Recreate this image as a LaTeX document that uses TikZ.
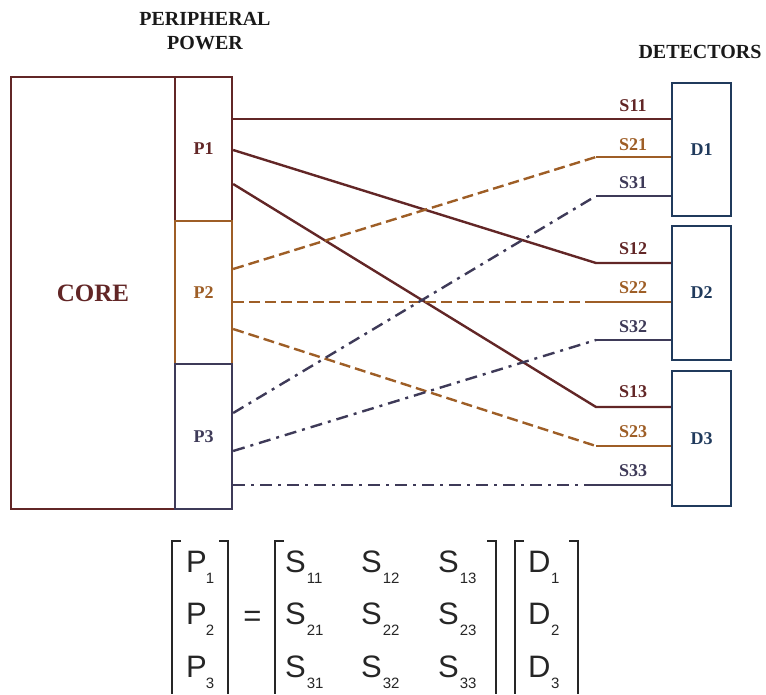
\documentclass[tikz,border=0pt]{standalone}
\usepackage{fontspec}
\setmainfont{Liberation Serif}
\newfontfamily\eqf{Liberation Sans}
\definecolor{mar}{RGB}{98,38,38}
\definecolor{org}{RGB}{158,94,38}
\definecolor{sla}{RGB}{62,58,88}
\definecolor{nav}{RGB}{32,58,92}
\definecolor{hdr}{RGB}{25,25,25}
\newcommand{\mysub}[1]{\raisebox{-11.5pt}{\fontsize{15}{15}\selectfont #1}}
\begin{document}
\begin{tikzpicture}[x=1pt,y=-1pt,
 box/.style={draw,line width=2.3pt,fill=white,inner sep=0pt,font=\bfseries\fontsize{18}{18}\selectfont},
 hdrtxt/.style={font=\bfseries\fontsize{20}{24.5}\selectfont,text=hdr,align=center,inner sep=0pt},
 lab/.style={font=\bfseries\fontsize{18}{18}\selectfont,inner sep=0pt},
 l1/.style={draw=mar,line width=2.4pt},
 l2/.style={draw=org,line width=2.4pt},
 l3/.style={draw=sla,line width=2.4pt},
 dsh/.style={dash pattern=on 11pt off 5pt},
 dshdot/.style={dash pattern=on 12pt off 6pt on 3pt off 6pt},
 br/.style={line width=2pt,draw=black!85},
 ent/.style={font=\eqf\fontsize{31}{31}\selectfont,anchor=base west,inner sep=0pt,text=black!85}]
\useasboundingbox (0,0) rectangle (766,694);

% headers
\node[hdrtxt] (hp) at (205,31) {PERIPHERAL\\POWER};
\node[hdrtxt] (hd) at (700,52) {DETECTORS};

% boxes
\node[box,draw=mar,text=mar,minimum width=164,minimum height=432,font=\bfseries\fontsize{25}{25}\selectfont] (core) at (93,293) {CORE};
\node[box,draw=mar,text=mar,minimum width=57,minimum height=144] (p1) at (203.5,149) {P1};
\node[box,draw=org,text=org,minimum width=57,minimum height=143] (p2) at (203.5,292.5) {P2};
\node[box,draw=sla,text=sla,minimum width=57,minimum height=145] (p3) at (203.5,436.5) {P3};
\node[box,draw=nav,text=nav,minimum width=59,minimum height=133] (d1) at (701.5,149.5) {D1};
\node[box,draw=nav,text=nav,minimum width=59,minimum height=134] (d2) at (701.5,293) {D2};
\node[box,draw=nav,text=nav,minimum width=59,minimum height=135] (d3) at (701.5,438.5) {D3};

% start points
\coordinate (a11) at ([yshift=30pt]p1.east);
\coordinate (a12) at ([yshift=-1pt]p1.east);
\coordinate (a13) at ([yshift=-35pt]p1.east);
\coordinate (a21) at ([yshift=23.5pt]p2.east);
\coordinate (a22) at ([yshift=-9.5pt]p2.east);
\coordinate (a23) at ([yshift=-36.5pt]p2.east);
\coordinate (a31) at ([yshift=23.5pt]p3.east);
\coordinate (a32) at ([yshift=-14.5pt]p3.east);
\coordinate (a33) at ([yshift=-48.5pt]p3.east);
% bend points
\coordinate (b12) at (596,263);
\coordinate (b13) at (596,407);
\coordinate (b21) at (596,157);
\coordinate (b22) at (596,302);
\coordinate (b23) at (596,446);
\coordinate (b31) at (596,196);
\coordinate (b32) at (596,340);
\coordinate (b33) at (596,485);

% connectors
\draw[l1] (a11) -- (d1.west |- a11);
\draw[l1] (a12) -- (b12) -- (d2.west |- b12);
\draw[l1] (a13) -- (b13) -- (d3.west |- b13);
\draw[l2,dsh] (a21) -- (b21);
\draw[l2] (b21) -- (d1.west |- b21);
\draw[l2,dsh] (a22) -- (b22);
\draw[l2] (b22) -- (d2.west |- b22);
\draw[l2,dsh] (a23) -- (b23);
\draw[l2] (b23) -- (d3.west |- b23);
\draw[l3,dshdot] (a31) -- (b31);
\draw[l3] (b31) -- (d1.west |- b31);
\draw[l3,dshdot] (a32) -- (b32);
\draw[l3] (b32) -- (d2.west |- b32);
\draw[l3,dshdot] (a33) -- (b33);
\draw[l3] (b33) -- (d3.west |- b33);

% labels
\node[lab,text=mar] (t11) at (633,105.5) {S11};
\node[lab,text=org] (t21) at (633,144.5) {S21};
\node[lab,text=sla] (t31) at (633,183) {S31};
\node[lab,text=mar] (t12) at (633,249) {S12};
\node[lab,text=org] (t22) at (633,288) {S22};
\node[lab,text=sla] (t32) at (633,327) {S32};
\node[lab,text=mar] (t13) at (633,392) {S13};
\node[lab,text=org] (t23) at (633,432) {S23};
\node[lab,text=sla] (t33) at (633,471) {S33};

% equation brackets
\draw[br] (181,541) -- (172,541) -- (172,694);
\draw[br] (219,541) -- (228,541) -- (228,694);
\draw[br] (284,541) -- (275,541) -- (275,694);
\draw[br] (487,541) -- (496,541) -- (496,694);
\draw[br] (524,541) -- (515,541) -- (515,694);
\draw[br] (569,541) -- (578,541) -- (578,694);

% equation entries
\node[ent] (mp1) at (186,572) {P\kern-1pt\mysub{1}};
\node[ent] (mp2) at (186,624) {P\kern-1pt\mysub{2}};
\node[ent] (mp3) at (186,677) {P\kern-1pt\mysub{3}};
\node[ent,anchor=center] (eq) at (252.5,619) {=};
\node[ent] (m11) at (285,572) {S\kern1pt\mysub{11}};
\node[ent] (m12) at (361,572) {S\kern1pt\mysub{12}};
\node[ent] (m13) at (438,572) {S\kern1pt\mysub{13}};
\node[ent] (m21) at (285,624) {S\kern1pt\mysub{21}};
\node[ent] (m22) at (361,624) {S\kern1pt\mysub{22}};
\node[ent] (m23) at (438,624) {S\kern1pt\mysub{23}};
\node[ent] (m31) at (285,677) {S\kern1pt\mysub{31}};
\node[ent] (m32) at (361,677) {S\kern1pt\mysub{32}};
\node[ent] (m33) at (438,677) {S\kern1pt\mysub{33}};
\node[ent] (md1) at (528,572) {D\kern0.5pt\mysub{1}};
\node[ent] (md2) at (528,624) {D\kern0.5pt\mysub{2}};
\node[ent] (md3) at (528,677) {D\kern0.5pt\mysub{3}};
\end{tikzpicture}
\end{document}
